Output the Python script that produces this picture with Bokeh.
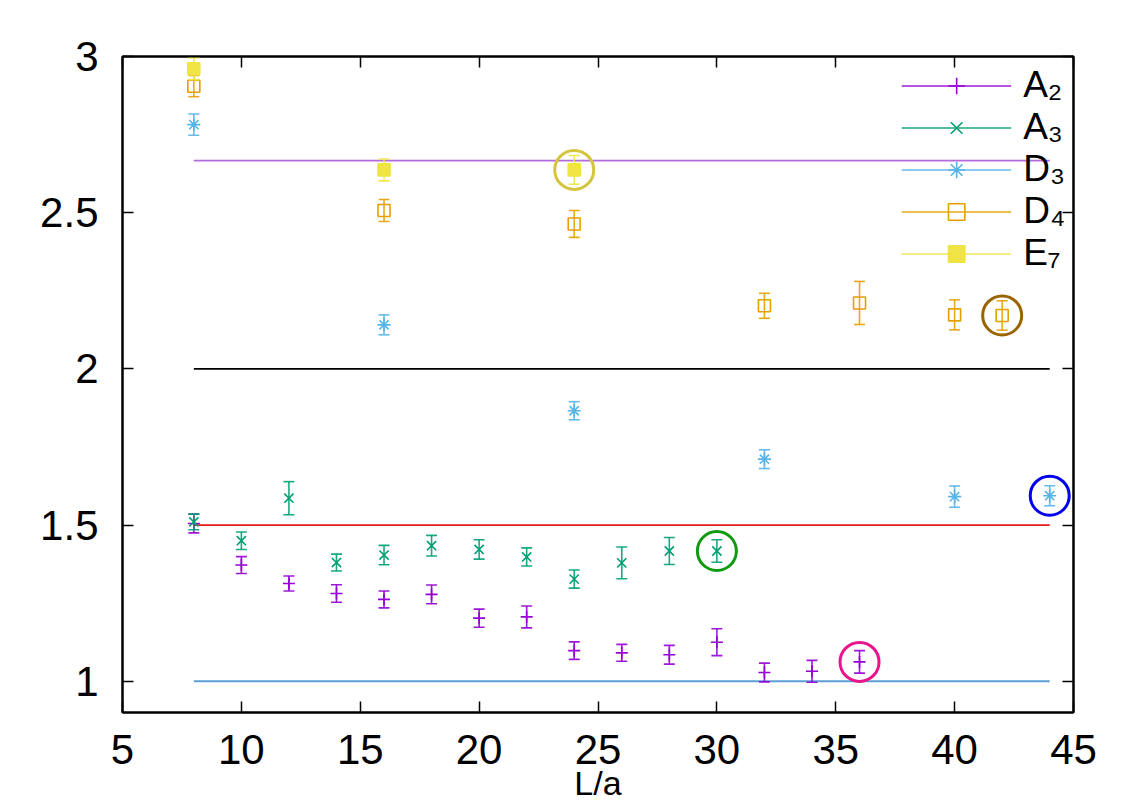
from bokeh.plotting import figure
from bokeh.models import (LinearAxis, FixedTicker, CustomJSTickFormatter, Legend,
                          LegendItem, Range1d)
from bokeh.embed import file_html
from bokeh.resources import INLINE
import numpy as np

# ---------------- data ----------------
x_A2 = [8, 10, 12, 14, 16, 18, 20, 22, 24, 26, 28, 30, 32, 34, 36]
y_A2 = [1.505, 1.372, 1.313, 1.281, 1.262, 1.278, 1.202, 1.206, 1.098, 1.091, 1.085, 1.125, 1.028, 1.032, 1.062]
e_A2 = [0.030, 0.027, 0.024, 0.028, 0.027, 0.030, 0.029, 0.035, 0.028, 0.027, 0.030, 0.043, 0.030, 0.035, 0.036]

x_A3 = [8, 10, 12, 14, 16, 18, 20, 22, 24, 26, 28, 30]
y_A3 = [1.510, 1.450, 1.586, 1.380, 1.404, 1.434, 1.422, 1.398, 1.327, 1.379, 1.417, 1.417]
e_A3 = [0.025, 0.028, 0.053, 0.027, 0.031, 0.033, 0.031, 0.029, 0.029, 0.051, 0.043, 0.036]

x_D3 = [8, 16, 24, 32, 40, 44]
y_D3 = [2.782, 2.141, 1.866, 1.711, 1.591, 1.594]
e_D3 = [0.034, 0.032, 0.029, 0.030, 0.034, 0.032]

x_D4 = [8, 16, 24, 32, 36, 40, 42]
y_D4 = [2.905, 2.507, 2.464, 2.202, 2.211, 2.173, 2.171]
e_D4 = [0.034, 0.035, 0.043, 0.040, 0.069, 0.048, 0.047]

x_E7 = [8, 16, 24]
y_E7 = [2.961, 2.637, 2.637]
e_E7 = [0.035, 0.035, 0.046]

series_names = ["A₂", "A₃", "D₃", "D₄", "E₇"]

# horizontal reference lines (value, span from L/a=8 to 44)
ref_y = [8.0 / 3.0, 2.0, 1.5, 1.0]
ref_x0 = [8, 8, 8, 8]
ref_x1 = [44, 44, 44, 44]

# highlighted points
hl_x = [24, 30, 36, 42, 44]
hl_y = [2.637, 1.417, 1.062, 2.171, 1.594]

x_ticks = [5, 10, 15, 20, 25, 30, 35, 40, 45]
y_ticks = [1, 1.5, 2, 2.5, 3]
x_title = "L/a"

# ---------------- styles ----------------
FONT = "Liberation Sans"
FS = "42px"
colors = ["#9400d3", "#009e73", "#56b4e9", "#e69f00", "#f0e442"]
markers = ["cross", "x", "asterisk", "square", "square"]
msizes = [12, 13, 13, 12, 12]
fills = [None, None, None, None, "#f0e442"]
ref_colors = ["#b46be0", "#000000", "#e41a1c", "#5c9fd6"]
hl_colors = ["#d4c43e", "#109a10", "#ea148c", "#9a6500", "#0000ee"]

p = figure(width=1146, height=809, x_range=Range1d(5, 45), y_range=Range1d(0.9, 3.0),
           output_backend="svg", toolbar_location=None,
           min_border_left=122, min_border_right=73, min_border_top=56, min_border_bottom=97)
p.background_fill_color = "white"
p.border_fill_color = "white"
p.grid.visible = False
p.outline_line_color = "black"
p.outline_line_width = 2

for ax in (p.xaxis[0], p.yaxis[0]):
    ax.axis_line_width = 2
    ax.major_tick_in = 11
    ax.major_tick_out = 0
    ax.major_tick_line_width = 1.5
    ax.minor_tick_line_color = None
    ax.major_label_text_font = FONT
    ax.major_label_text_font_size = FS
    ax.major_label_text_color = "black"

p.xaxis[0].ticker = FixedTicker(ticks=x_ticks)
p.yaxis[0].ticker = FixedTicker(ticks=y_ticks)
p.xaxis[0].major_label_standoff = 22
p.yaxis[0].major_label_standoff = 24
fmt = CustomJSTickFormatter(code="return String(+tick.toFixed(3));")
p.xaxis[0].formatter = fmt
p.yaxis[0].formatter = fmt

# x-axis title, kept inside the page at its bottom edge
p.xaxis[0].axis_label = x_title
p.xaxis[0].axis_label_text_font = FONT
p.xaxis[0].axis_label_text_font_size = "34px"
p.xaxis[0].axis_label_text_font_style = "normal"
p.xaxis[0].axis_label_text_color = "black"
p.xaxis[0].axis_label_standoff = -3

# mirrored ticks on top and right (no labels)
blank = CustomJSTickFormatter(code="return '';")
top_ax = LinearAxis(ticker=FixedTicker(ticks=x_ticks), major_tick_in=11, major_tick_out=0,
                    minor_tick_line_color=None, formatter=blank, major_label_standoff=0,
                    axis_line_width=2, major_tick_line_width=1.5)
right_ax = LinearAxis(ticker=FixedTicker(ticks=y_ticks), major_tick_in=11, major_tick_out=0,
                      minor_tick_line_color=None, formatter=blank, major_label_standoff=0,
                      axis_line_width=2, major_tick_line_width=1.5)
p.add_layout(top_ax, "above")
p.add_layout(right_ax, "right")

# reference lines
for yv, x0, x1, c in zip(ref_y, ref_x0, ref_x1, ref_colors):
    p.segment(x0=[x0], y0=[yv], x1=[x1], y1=[yv], line_color=c, line_width=1.8)

# series with error bars
all_data = [(x_A2, y_A2, e_A2), (x_A3, y_A3, e_A3), (x_D3, y_D3, e_D3),
            (x_D4, y_D4, e_D4), (x_E7, y_E7, e_E7)]
items = []
for (xs, ys, es), name, c, m, s, f in zip(all_data, series_names, colors, markers, msizes, fills):
    xs = np.array(xs, dtype=float)
    ys = np.array(ys, dtype=float)
    es = np.array(es, dtype=float)
    seg = p.segment(x0=xs, y0=ys - es, x1=xs, y1=ys + es, line_color=c, line_width=1.6, line_alpha=0.9)
    p.scatter(x=np.concatenate([xs, xs]), y=np.concatenate([ys - es, ys + es]), marker="dash",
              size=11, line_color=c, line_width=1.6, line_alpha=0.9)
    mk = p.scatter(x=xs, y=ys, marker=m, size=s, line_color=c, line_width=1.6,
                   fill_color=f, fill_alpha=1.0 if f else 0.0)
    items.append(LegendItem(label=name, renderers=[seg, mk]))

# highlight circles
p.scatter(x=hl_x, y=hl_y, marker="circle", size=39, fill_color=None,
          line_color=hl_colors, line_width=3)

legend = Legend(items=items, location="top_right", glyph_width=110, glyph_height=41,
                label_text_font=FONT, label_text_font_size="37px", label_height=41,
                label_text_color="black",
                spacing=0, padding=0, margin=8, label_standoff=12,
                border_line_color=None, background_fill_alpha=0)
p.add_layout(legend)

open("out.html", "w").write(file_html(p, INLINE))
